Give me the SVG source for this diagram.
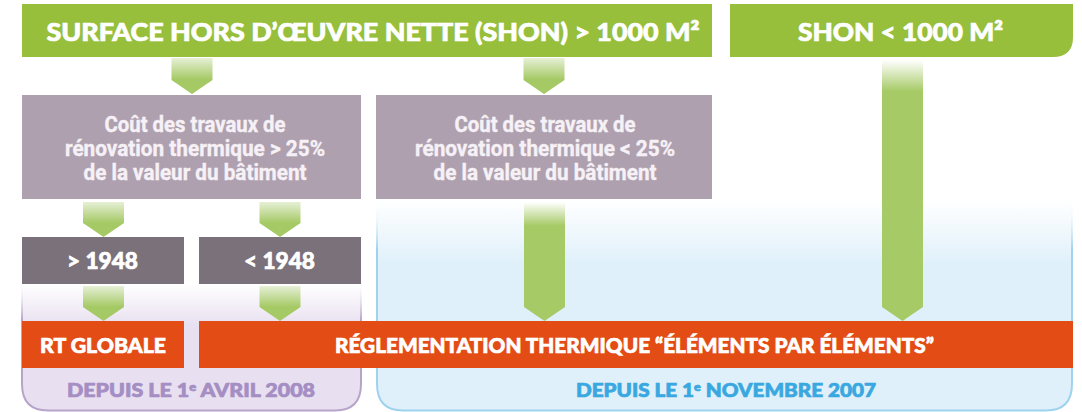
<svg xmlns="http://www.w3.org/2000/svg" width="1082" height="412" viewBox="0 0 1082 412">
  <style>
    .hd { font-family: Lato, "Open Sans", sans-serif; font-weight: 900; fill: #ffffff; stroke: #ffffff; stroke-width: 0.7px; }
    .pt { font-family: Roboto, "Liberation Sans", sans-serif; font-weight: 700; fill: #f6f1f6; stroke: #f6f1f6; stroke-width: 0.4px; font-size: 22px; text-anchor: middle; }
    .green { fill: #97bf3c; }
    .mauve { fill: #afa0af; }
    .dark { fill: #7b717b; }
    .orange { fill: #e34c14; }
    .lav { fill: #a58ec3; stroke: #a58ec3; }
    .blu { fill: #3aa8e0; stroke: #3aa8e0; }
  </style>
  <defs>
    <linearGradient id="gShort" x1="0" y1="0" x2="0" y2="1">
      <stop offset="0" stop-color="#e6f0d6"/>
      <stop offset="0.6" stop-color="#a5c964"/>
    </linearGradient>
    <linearGradient id="gMid" x1="0" y1="0" x2="0" y2="1">
      <stop offset="0" stop-color="#ffffff"/>
      <stop offset="0.2" stop-color="#a6ca66"/>
    </linearGradient>
    <linearGradient id="gLong" x1="0" y1="0" x2="0" y2="1">
      <stop offset="0" stop-color="#ffffff"/>
      <stop offset="0.12" stop-color="#a6ca66"/>
    </linearGradient>
    <linearGradient id="lavFill" gradientUnits="userSpaceOnUse" x1="0" y1="284" x2="0" y2="325">
      <stop offset="0" stop-color="#ffffff"/>
      <stop offset="1" stop-color="#e8e0f0"/>
    </linearGradient>
    <linearGradient id="lavStroke" gradientUnits="userSpaceOnUse" x1="0" y1="280" x2="0" y2="320">
      <stop offset="0" stop-color="#ffffff" stop-opacity="0"/>
      <stop offset="1" stop-color="#b6a5c9"/>
    </linearGradient>
    <linearGradient id="bluFill" gradientUnits="userSpaceOnUse" x1="0" y1="200" x2="0" y2="265">
      <stop offset="0" stop-color="#ffffff"/>
      <stop offset="1" stop-color="#dff0fa"/>
    </linearGradient>
    <linearGradient id="bluStroke" gradientUnits="userSpaceOnUse" x1="0" y1="200" x2="0" y2="250">
      <stop offset="0" stop-color="#ffffff" stop-opacity="0"/>
      <stop offset="1" stop-color="#9ed2ee"/>
    </linearGradient>
  </defs>

  <g id="zone-avril-2008">
    <path d="M22,250 V384 Q22,410.5 48,410.5 H335 Q361,410.5 361,384 V250" fill="url(#lavFill)" stroke="url(#lavStroke)" stroke-width="2"/>
    <text class="hd lav" x="191" y="397" font-size="18" text-anchor="middle" textLength="248" lengthAdjust="spacingAndGlyphs">DEPUIS LE 1<tspan font-size="11" dy="-6">e</tspan><tspan dy="6"> AVRIL 2008</tspan></text>
  </g>

  <g id="zone-novembre-2007">
    <path d="M377,195 V384 Q377,410.5 403,410.5 H1046 Q1072,410.5 1072,384 V195" fill="url(#bluFill)" stroke="url(#bluStroke)" stroke-width="2"/>
    <text class="hd blu" x="726" y="397" font-size="18" text-anchor="middle" textLength="300" lengthAdjust="spacingAndGlyphs">DEPUIS LE 1<tspan font-size="11" dy="-6">e</tspan><tspan dy="6"> NOVEMBRE 2007</tspan></text>
  </g>

  <g id="header-shon-plus">
    <rect class="green" x="22" y="4" width="690" height="53"/>
    <text class="hd" x="46.5" y="41" font-size="24" textLength="653" lengthAdjust="spacingAndGlyphs">SURFACE HORS D’ŒUVRE NETTE (SHON) &gt; 1000 M²</text>
  </g>

  <g id="header-shon-moins">
    <path class="green" d="M730,4 H1073 V37 Q1073,57 1053,57 H730 Z"/>
    <text class="hd" x="798" y="41" font-size="24" textLength="205" lengthAdjust="spacingAndGlyphs">SHON &lt; 1000 M²</text>
  </g>

  <g id="cout-plus">
    <rect class="mauve" x="22" y="95" width="339" height="104"/>
    <text class="pt" x="195" y="132" textLength="181" lengthAdjust="spacingAndGlyphs">Coût des travaux de</text>
    <text class="pt" x="195" y="156" textLength="260" lengthAdjust="spacingAndGlyphs">rénovation thermique &gt; 25%</text>
    <text class="pt" x="195" y="180" textLength="223" lengthAdjust="spacingAndGlyphs">de la valeur du bâtiment</text>
  </g>

  <g id="cout-moins">
    <rect class="mauve" x="376" y="95" width="336" height="104"/>
    <text class="pt" x="545" y="132" textLength="181" lengthAdjust="spacingAndGlyphs">Coût des travaux de</text>
    <text class="pt" x="545" y="156" textLength="260" lengthAdjust="spacingAndGlyphs">rénovation thermique &lt; 25%</text>
    <text class="pt" x="545" y="180" textLength="223" lengthAdjust="spacingAndGlyphs">de la valeur du bâtiment</text>
  </g>

  <g id="apres-1948">
    <rect class="dark" x="22" y="237" width="162" height="47"/>
    <text class="hd" x="102.5" y="269" font-size="23" text-anchor="middle" textLength="71" lengthAdjust="spacingAndGlyphs">&gt; 1948</text>
  </g>

  <g id="avant-1948">
    <rect class="dark" x="199" y="237" width="162" height="47"/>
    <text class="hd" x="279.5" y="269" font-size="23" text-anchor="middle" textLength="71" lengthAdjust="spacingAndGlyphs">&lt; 1948</text>
  </g>

  <g id="rt-globale">
    <rect class="orange" x="22" y="321" width="162" height="47"/>
    <text class="hd" x="103" y="353" font-size="21" text-anchor="middle" textLength="126" lengthAdjust="spacingAndGlyphs">RT GLOBALE</text>
  </g>

  <g id="rt-elements">
    <rect class="orange" x="199" y="321" width="874" height="47"/>
    <text class="hd" x="634.5" y="353" font-size="21" text-anchor="middle" textLength="599" lengthAdjust="spacingAndGlyphs">RÉGLEMENTATION THERMIQUE “ÉLÉMENTS PAR ÉLÉMENTS”</text>
  </g>

  <g id="connectors">
    <path d="M171.5,58 H212.5 V80 L192,94 L171.5,80 Z" fill="url(#gShort)"/>
    <path d="M523.5,58 H564.5 V80 L544,94 L523.5,80 Z" fill="url(#gShort)"/>
    <path d="M83,202 H124 V223 L103.5,237 L83,223 Z" fill="url(#gShort)"/>
    <path d="M259.5,202 H300.5 V223 L280,237 L259.5,223 Z" fill="url(#gShort)"/>
    <path d="M83,286 H124 V307 L103.5,321 L83,307 Z" fill="url(#gShort)"/>
    <path d="M259.5,286 H300.5 V307 L280,321 L259.5,307 Z" fill="url(#gShort)"/>
    <path d="M524,202 H565 V307 L544.5,321 L524,307 Z" fill="url(#gMid)"/>
    <path d="M882,60 H923 V307 L902.5,321 L882,307 Z" fill="url(#gLong)"/>
  </g>
</svg>
